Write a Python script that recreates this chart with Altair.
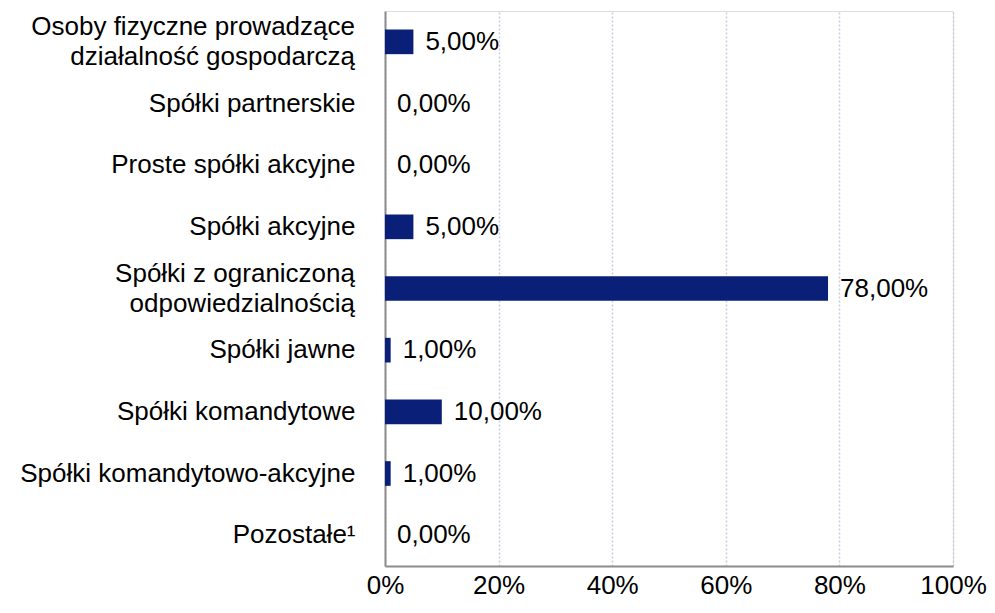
import altair as alt
import pandas as pd

categories = [
    "Osoby fizyczne prowadzące|działalność gospodarczą",
    "Spółki partnerskie",
    "Proste spółki akcyjne",
    "Spółki akcyjne",
    "Spółki z ograniczoną|odpowiedzialnością",
    "Spółki jawne",
    "Spółki komandytowe",
    "Spółki komandytowo-akcyjne",
    "Pozostałe¹",
]
values = [5.0, 0.0, 0.0, 5.0, 78.0, 1.0, 10.0, 1.0, 0.0]
x_ticks = [0, 20, 40, 60, 80, 100]

df = pd.DataFrame({"cat": categories, "val": values})
two_line = [c for c in categories if "|" in c]
df2 = pd.DataFrame({
    "cat": two_line,
    "line1": [c.split("|")[0] for c in two_line],
    "line2": [c.split("|")[1] for c in two_line],
})

FONT = "Liberation Sans"
NAVY = "#0a1f78"
FS = 26

y_enc = alt.Y(
    "cat:N",
    sort=categories,
    scale=alt.Scale(paddingInner=0.6, paddingOuter=0.3),
    axis=alt.Axis(
        title=None,
        labelExpr="indexof(datum.label, '|') >= 0 ? '' : datum.label",
        labelFontSize=FS,
        labelFont=FONT,
        labelColor="#000000",
        labelPadding=30,
        labelLimit=500,
        ticks=False,
        grid=False,
        domainColor="#8c8c8c",
        domainWidth=2,
    ),
)

x_enc = alt.X(
    "val:Q",
    scale=alt.Scale(domain=[0, 100]),
    axis=alt.Axis(
        title=None,
        values=x_ticks,
        labelExpr="datum.value + '%'",
        labelFontSize=FS,
        labelFont=FONT,
        labelColor="#000000",
        labelPadding=6,
        ticks=False,
        grid=True,
        gridColor="#c6cee6",
        gridDash=[2, 2],
        gridWidth=1.5,
        domainColor="#8c8c8c",
        domainWidth=2,
        labelFlush=False,
    ),
)

bars = alt.Chart(df).mark_bar(color=NAVY).encode(x=x_enc, y=y_enc)

labels = (
    alt.Chart(df)
    .transform_calculate(lbl="replace(format(datum.val, '.2f'), '.', ',') + '%'")
    .mark_text(align="left", baseline="middle", dx=12, fontSize=FS, font=FONT, color="#000000")
    .encode(x="val:Q", y=alt.Y("cat:N", sort=categories), text="lbl:N")
)

cat_l1 = (
    alt.Chart(df2)
    .mark_text(align="right", baseline="middle", dy=-15, fontSize=FS, font=FONT, color="#000000")
    .encode(x=alt.value(-30), y=alt.Y("cat:N", sort=categories), text="line1:N")
)
cat_l2 = (
    alt.Chart(df2)
    .mark_text(align="right", baseline="middle", dy=15, fontSize=FS, font=FONT, color="#000000")
    .encode(x=alt.value(-30), y=alt.Y("cat:N", sort=categories), text="line2:N")
)

chart = (
    alt.layer(bars, labels, cat_l1, cat_l2)
    .properties(
        width=568,
        height=555,
        autosize=alt.AutoSizeParams(type="none"),
        padding={"left": 377, "top": 3, "right": 34, "bottom": 39},
    )
    .configure_view(strokeWidth=0)
    .configure(background="white")
)

chart.save("out.html", embed_options={"renderer": "svg", "actions": False})
